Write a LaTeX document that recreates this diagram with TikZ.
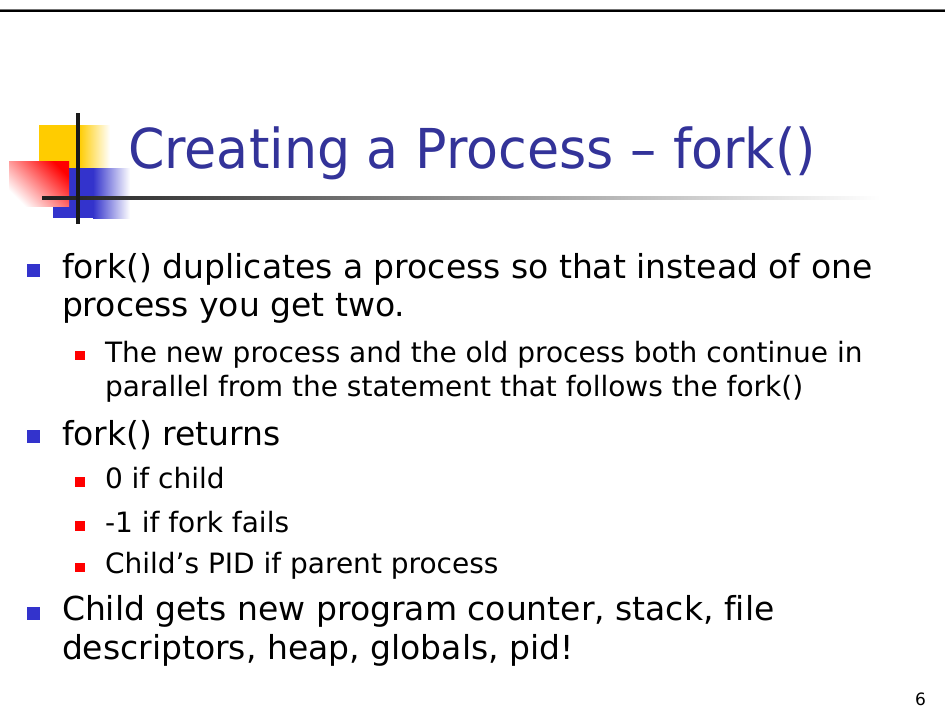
\documentclass[tikz,border=0pt]{standalone}
\usepackage{fontspec}
\setmainfont[Ligatures=NoCommon]{DejaVu Sans}
\newfontfamily\titlefont[FakeStretch=0.95]{DejaVu Sans}
\definecolor{titleblue}{HTML}{333399}
\definecolor{bulletblue}{HTML}{3333CC}
\definecolor{logoyellow}{HTML}{FFCC00}
\definecolor{logoblue}{HTML}{3333CC}
\definecolor{bulletred}{HTML}{FF0000}
\begin{document}
\begin{tikzpicture}[x=1pt,y=-1pt,
  every node/.style={inner sep=0pt, outer sep=0pt},
  titletext/.style={anchor=base west, text=titleblue, font=\titlefont\fontsize{55}{60}\selectfont},
  mainline/.style={anchor=base west, font=\fontsize{33}{38}\selectfont},
  subline/.style={anchor=base west, font=\fontsize{28}{34}\selectfont},
  mainbullet/.style={fill=bulletblue, minimum size=13pt, anchor=north west},
  subbullet/.style={fill=bulletred, minimum size=9.5pt, anchor=north west},
  pagenum/.style={anchor=base east, font=\fontsize{17}{20}\selectfont},
]
\useasboundingbox (0,0) rectangle (945,723);
\fill[white] (0,0) rectangle (945,723);

% rule across the top of the slide
\fill[black!55] (0,8.5) rectangle (945,9.5);
\fill[black] (0,9.5) rectangle (945,12);

% title decoration: coloured squares and crossing rules
\fill[logoyellow] (39,125) rectangle (79,168);
\shade[left color=logoyellow, right color=white] (79,125) rectangle (110,168);
\fill[logoblue] (53,168) rectangle (93,218);
\shade[left color=logoblue, right color=white] (93,168) rectangle (130,218);
\shade[top color=red, bottom color=white, shading angle=-45] (9,161) rectangle (69,206);
\shade[left color=black!88, middle color=black!65, right color=white] (42,196.5) rectangle (880,199.5);
\fill[black!90] (76,113) rectangle (80,224);

% title
\node[titletext] (title) at (128,168) {Creating a Process – fork()};

% first bullet
\node[mainbullet] (b1) at (27,264) {};
\node[mainline] (l1a) at (62,278) {fork() duplicates a process so that instead of one};
\node[mainline] (l1b) at (62,316) {process you get two.};
\node[subbullet] (s1) at (75,350.5) {};
\node[subline] (l1c) at (105,362) {The new process and the old process both continue in};
\node[subline] (l1d) at (105,396) {parallel from the statement that follows the fork()};

% second bullet
\node[mainbullet] (b2) at (27,430) {};
\node[mainline] (l2a) at (62,445) {fork() returns};
\node[subbullet] (s2) at (75,477) {};
\node[subline] (l2b) at (105,488) {0 if child};
\node[subbullet] (s3) at (75,521) {};
\node[subline] (l2c) at (105,532) {-1 if fork fails};
\node[subbullet] (s4) at (75,562.5) {};
\node[subline] (l2d) at (105,573) {Child’s PID if parent process};

% third bullet
\node[mainbullet] (b3) at (27,607) {};
\node[mainline] (l3a) at (62,620) {Child gets new program counter, stack, file};
\node[mainline] (l3b) at (62,659) {descriptors, heap, globals, pid!};

% slide number
\node[pagenum] (page) at (926,705) {6};
\end{tikzpicture}
\end{document}
